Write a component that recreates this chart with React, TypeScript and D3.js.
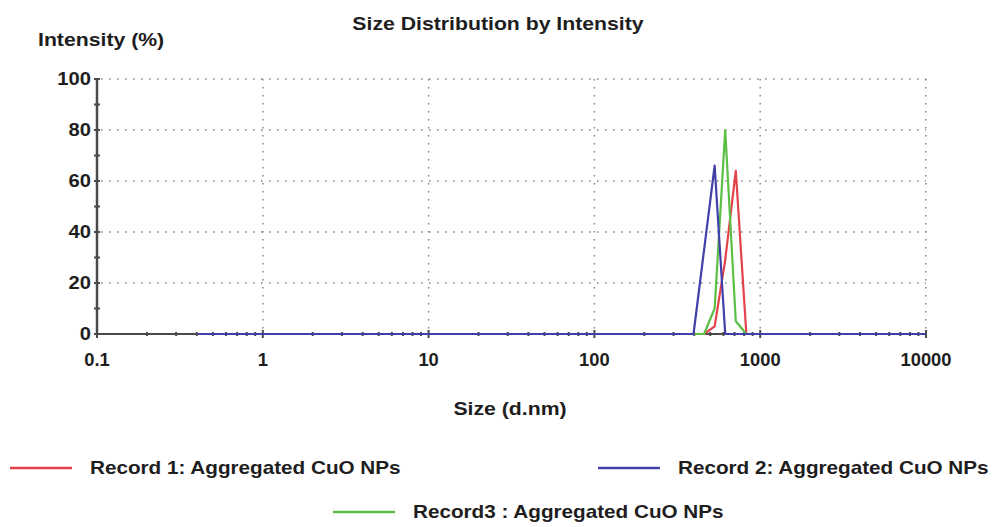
import * as d3 from "d3";

// size bins (d.nm) near the peaks, plus the ends of the measured range
const sizes = [0.4, 396.1, 458.7, 531.2, 615.1, 712.4, 825.0, 10000];
const record1 = [0, 0, 0, 3, 29, 64, 0, 0];
const record3 = [0, 0, 0, 10, 80, 5, 0, 0];
const record2 = [0, 0, 33, 66, 0, 0, 0, 0];

const xTickLabels = ["0.1", "1", "10", "100", "1000", "10000"];
const xTickValues = [0.1, 1, 10, 100, 1000, 10000];
const yTickValues = [0, 20, 40, 60, 80, 100];

const series = [
  { name: "Record 1: Aggregated CuO NPs", values: record1, color: "#e4424a" },
  { name: "Record3 : Aggregated CuO NPs", values: record3, color: "#5cbf45" },
  { name: "Record 2: Aggregated CuO NPs", values: record2, color: "#4040a8" },
];

const width = 993;
const height = 527;
const margin = { left: 97, right: 67, top: 79, bottom: 193 };

const font = "'Liberation Sans', Arial, sans-serif";
const ink = "#1e1e1e";

const Label = (props: {
  x: number;
  y: number;
  text: string;
  anchor?: string;
  sx?: number;
  size?: number;
}) => (
  <text
    transform={`translate(${props.x},${props.y}) scale(${props.sx ?? 1.18},1)`}
    textAnchor={props.anchor ?? "start"}
    fontFamily={font}
    fontWeight="bold"
    fontSize={props.size ?? 18}
    fill={ink}
  >
    {props.text}
  </text>
);

export default function App() {
  const xScale = d3
    .scaleLog()
    .domain([0.1, 10000])
    .range([margin.left, width - margin.right]);
  const yScale = d3
    .scaleLinear()
    .domain([0, 100])
    .range([height - margin.bottom, margin.top]);

  const x0 = xScale(0.1);
  const x1 = xScale(10000);
  const y0 = yScale(0);
  const y1 = yScale(100);

  // minor ticks 2..9 in each decade
  const minorX: number[] = [];
  for (let d = 0.1; d < 10000; d *= 10) {
    for (let k = 2; k <= 9; k++) minorX.push(d * k);
  }
  const yTicksAll = d3.range(0, 101, 10);

  const line = d3
    .line<number>()
    .x((_, i) => xScale(sizes[i]))
    .y((v) => yScale(v));

  const legend = [
    { s: series[0], lx: 10, ly: 468 },
    { s: series[2], lx: 598, ly: 468 },
    { s: series[1], lx: 333, ly: 512 },
  ];

  return (
    <svg
      width={width}
      height={height}
      viewBox={`0 0 ${width} ${height}`}
      style={{ position: "absolute", left: 0, top: 0, background: "#fff" }}
    >
      {/* grid */}
      <g stroke="#8a8a8a" strokeWidth={1.6} strokeDasharray="1.6,6.4" fill="none">
        {yTickValues.slice(1).map((v) => (
          <line key={`gy${v}`} x1={x0 + 4} x2={x1} y1={yScale(v)} y2={yScale(v)} />
        ))}
        {xTickValues.slice(1).map((v) => (
          <line key={`gx${v}`} x1={xScale(v)} x2={xScale(v)} y1={y1} y2={y0 - 4} />
        ))}
      </g>

      {/* axes */}
      <g stroke="#4a4a4a" strokeWidth={2}>
        <line x1={x0} x2={x1} y1={y0} y2={y0} />
        <line x1={x0} x2={x0} y1={y0} y2={y1} strokeWidth={2.5} />
        {yTicksAll.map((v) => (
          <line key={`ty${v}`} x1={x0 - 3} x2={x0 + 3} y1={yScale(v)} y2={yScale(v)} />
        ))}
        {xTickValues.map((v) => (
          <line key={`tx${v}`} x1={xScale(v)} x2={xScale(v)} y1={y0 - 4} y2={y0 + 4} />
        ))}
        {minorX.map((v) => (
          <line key={`mx${v}`} x1={xScale(v)} x2={xScale(v)} y1={y0 - 2} y2={y0 + 2} />
        ))}
      </g>

      {/* data */}
      {series.map((s) => (
        <path
          key={s.name}
          d={line(s.values) ?? ""}
          fill="none"
          stroke={s.color}
          strokeWidth={2.2}
          strokeLinejoin="round"
        />
      ))}

      {/* tick labels */}
      {yTickValues.map((v) => (
        <Label key={`ly${v}`} x={x0 - 6} y={yScale(v) + 6} text={String(v)} anchor="end" sx={1.12} />
      ))}
      {xTickValues.map((v, i) => (
        <Label key={`lx${v}`} x={xScale(v)} y={366} text={xTickLabels[i]} anchor="middle" sx={1.02} />
      ))}

      {/* titles */}
      <Label x={498} y={30} text="Size Distribution by Intensity" anchor="middle" />
      <Label x={38} y={46} text="Intensity (%)" />
      <Label x={510} y={415} text="Size (d.nm)" anchor="middle" />

      {/* legend */}
      {legend.map(({ s, lx, ly }) => (
        <g key={`lg${s.name}`}>
          <line x1={lx} x2={lx + 62} y1={ly} y2={ly} stroke={s.color} strokeWidth={2.5} />
          <Label x={lx + 80} y={ly + 6} text={s.name} sx={1.15} />
        </g>
      ))}
    </svg>
  );
}
